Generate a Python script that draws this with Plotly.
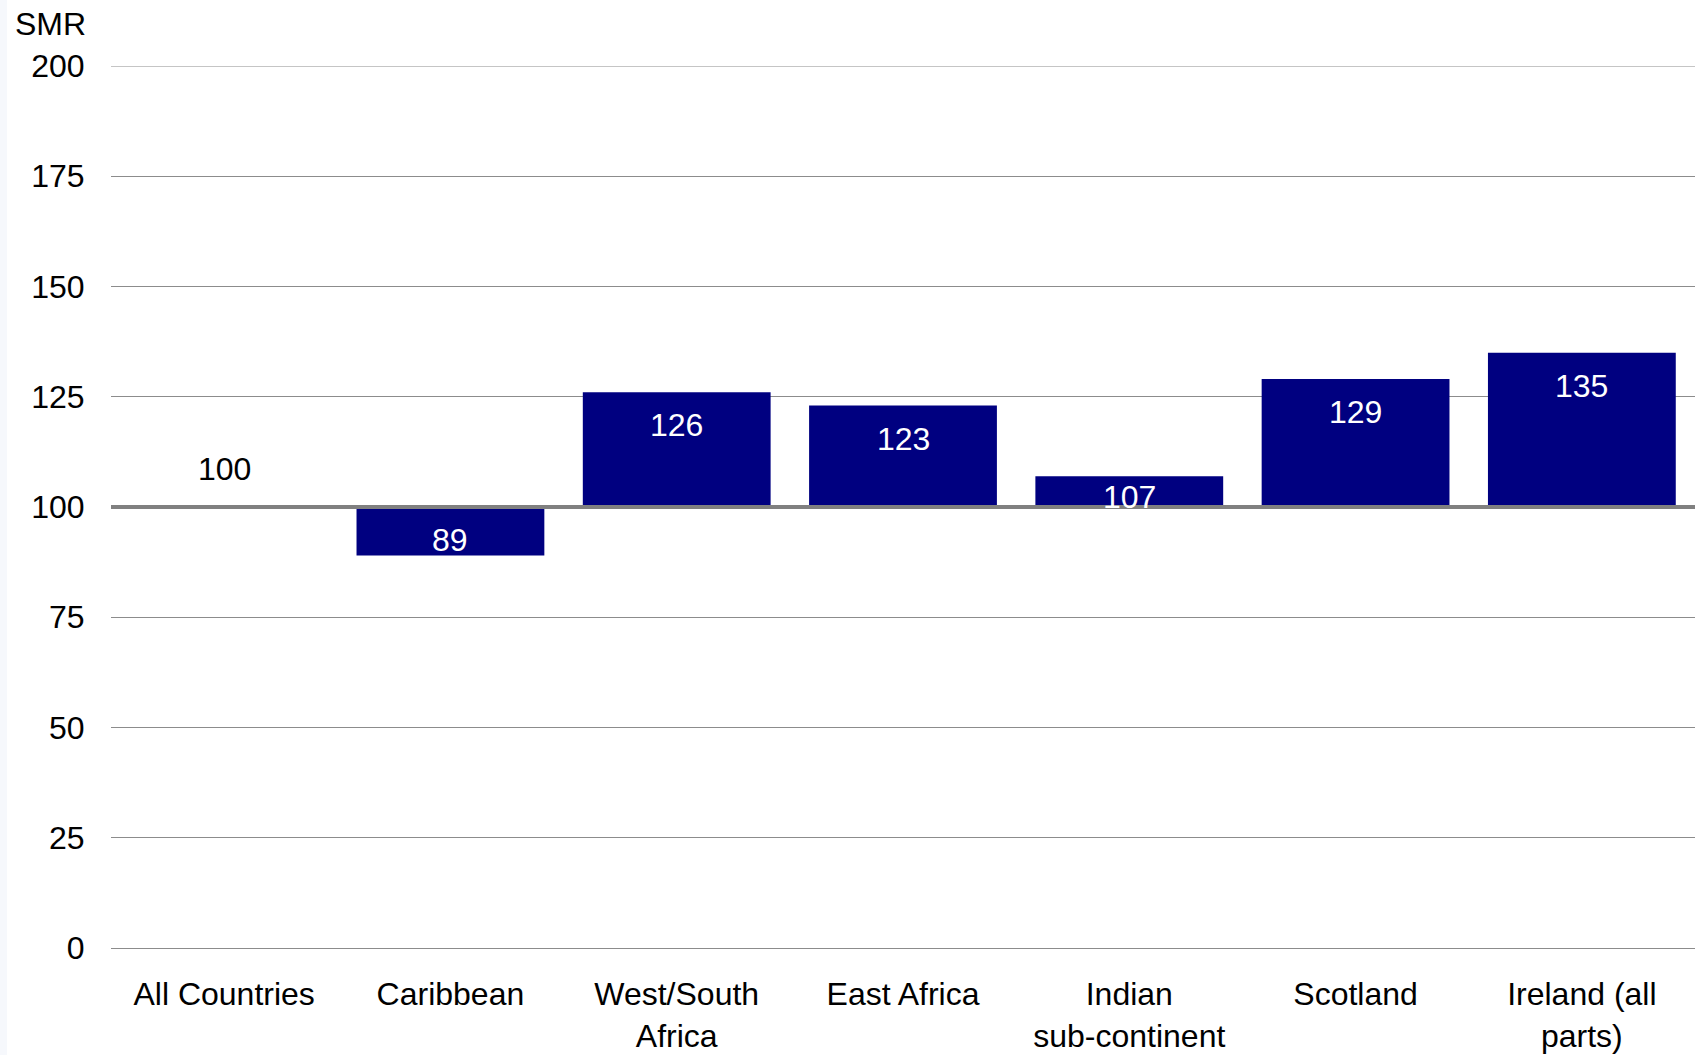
import plotly.graph_objects as go

# Standardised mortality ratios by country of birth (England & Wales = 100)
categories = ["All Countries", "Caribbean", "West/South<br>Africa", "East Africa",
              "Indian<br>sub-continent", "Scotland", "Ireland (all<br>parts)"]
smr = [100, 89, 126, 123, 107, 129, 135]
reference_level = 100
y_ticks = [0, 25, 50, 75, 100, 125, 150, 175, 200]

W, H = 1695, 1055
M_L, M_R, M_T, M_B = 111, 0, 66, 107
Y_MAX = 200
PLOT_W, PLOT_H = W - M_L - M_R, H - M_T - M_B
px_per_unit = PLOT_H / Y_MAX

NAVY = "#000080"
GRID = "#8c8c8c"
FONT = "Liberation Sans, Arial, sans-serif"

fig = go.Figure()
fig.add_trace(go.Bar(
    x=categories,
    y=[v - reference_level for v in smr],
    base=[reference_level] * len(smr),
    marker=dict(color=NAVY, line=dict(width=0)),
    width=0.83,
    hoverinfo="skip",
))

# value labels: inside the bar end, clamped for short bars; black above the line when flat
annotations = []
for cat, v in zip(categories, smr):
    h = (v - reference_level) * px_per_unit
    if v == reference_level:
        shift, color = 38, "black"
    elif v > reference_level:
        shift = -min(33, h - 10)
        color = "white"
    else:
        shift = 16
        color = "white"
    annotations.append(dict(
        x=cat, y=v, xref="x", yref="y", text=str(v), showarrow=False,
        yshift=shift, yanchor="middle", font=dict(family=FONT, size=32, color=color),
    ))

# axis title above the tick labels
annotations.append(dict(
    x=(50 - M_L) / PLOT_W, y=1 + (M_T - 24) / PLOT_H, xref="paper", yref="paper",
    text="SMR", showarrow=False, xanchor="center", yanchor="middle",
    font=dict(family=FONT, size=32, color="black"),
))

fig.update_layout(
    width=W, height=H,
    margin=dict(l=M_L, r=M_R, t=M_T, b=M_B, autoexpand=False),
    paper_bgcolor="white", plot_bgcolor="white",
    showlegend=False,
    font=dict(family=FONT, size=32, color="black"),
    annotations=annotations,
    shapes=[
        dict(type="rect", xref="paper", yref="paper",
             x0=-M_L / PLOT_W, x1=(7 - M_L) / PLOT_W,
             y0=-M_B / PLOT_H, y1=1 + M_T / PLOT_H,
             fillcolor="#f6f8fc", line=dict(width=0), layer="below"),
        # top gridline at the end of the value range
        dict(type="line", xref="paper", yref="y", x0=0, x1=1,
             y0=Y_MAX, y1=Y_MAX, line=dict(color=GRID, width=1), layer="below"),
        dict(type="line", xref="paper", yref="y", x0=0, x1=1,
             y0=reference_level, y1=reference_level,
             line=dict(color="#808080", width=4), layer="above"),
    ],
)

fig.update_xaxes(
    showgrid=False, showline=False, zeroline=False,
    ticks="outside", ticklen=18, tickcolor="rgba(0,0,0,0)",
    tickfont=dict(family=FONT, size=32, color="black"),
    range=[-0.5, len(categories) - 0.5],
)
fig.update_yaxes(
    range=[0, Y_MAX], tickvals=y_ticks,
    showgrid=True, gridcolor=GRID, gridwidth=1,
    zeroline=True, zerolinecolor=GRID, zerolinewidth=1,
    showline=False, ticks="outside", ticklen=19, tickcolor="rgba(0,0,0,0)",
    tickfont=dict(family=FONT, size=32, color="black"),
)

fig.write_html("out.html")
